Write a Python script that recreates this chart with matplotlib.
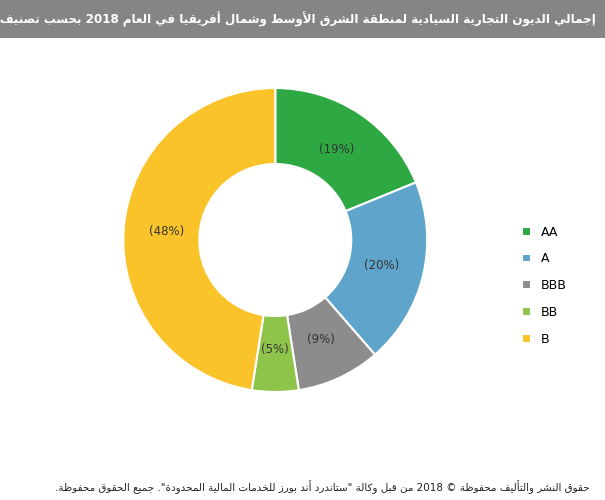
import re
import numpy as np
import matplotlib.pyplot as plt

# ---- minimal Arabic shaping + visual ordering (matplotlib has no bidi) ----
_forms = {}
def _add(chars, base, dual):
    for k, c in enumerate(chars):
        b = base + k * (4 if dual else 2)
        _forms[c] = (b, b + 1, b + 2, b + 3) if dual else (b, b + 1, None, None)

_add('آأؤإ', 0xFE81, False)
_forms['ئ'] = (0xFE89, 0xFE8A, 0xFE8B, 0xFE8C)
_forms['ا'] = (0xFE8D, 0xFE8E, None, None)
_forms['ب'] = (0xFE8F, 0xFE90, 0xFE91, 0xFE92)
_forms['ة'] = (0xFE93, 0xFE94, None, None)
_add('تثجحخ', 0xFE95, True)
_add('دذرز', 0xFEA9, False)
_add('سشصضطظعغفقكلمن', 0xFEB1, True)
_forms['ه'] = (0xFEE9, 0xFEEA, 0xFEEB, 0xFEEC)
_forms['و'] = (0xFEED, 0xFEEE, None, None)
_forms['ى'] = (0xFEEF, 0xFEF0, None, None)
_forms['ي'] = (0xFEF1, 0xFEF2, 0xFEF3, 0xFEF4)
_forms['ء'] = (0xFE80, None, None, None)
_lamalef = {'آ': 0xFEF5, 'أ': 0xFEF7, 'إ': 0xFEF9, 'ا': 0xFEFB}

def _shape(s):
    out = []
    i = 0
    n = len(s)
    def dual(c):
        return c in _forms and _forms[c][2] is not None
    while i < n:
        c = s[i]
        prev = s[i - 1] if i > 0 else ''
        joins_prev = dual(prev) and not (prev == 'ل' and c in _lamalef and False)
        if c == 'ل' and i + 1 < n and s[i + 1] in _lamalef:
            out.append(chr(_lamalef[s[i + 1]] + (1 if dual(prev) else 0)))
            i += 2
            continue
        if c not in _forms:
            out.append(c); i += 1; continue
        f = _forms[c]
        nxt = s[i + 1] if i + 1 < n else ''
        joins_next = f[2] is not None and nxt in _forms
        jp = dual(prev) and f[1] is not None
        if jp and joins_next:
            code = f[3]
        elif jp:
            code = f[1]
        elif joins_next:
            code = f[2]
        else:
            code = f[0]
        out.append(chr(code))
        i += 1
    return ''.join(out)

def ar(s):
    s = _shape(s)
    tokens = re.findall(r'[A-Za-z0-9]+|[^A-Za-z0-9]+', s)
    return ''.join(t if re.match(r'[A-Za-z0-9]', t) else t[::-1] for t in reversed(tokens))

labels = ['AA', 'A', 'BBB', 'BB', 'B']
values = [19, 20, 9, 5, 48]
colors = ['#2ea843', '#5fa5cb', '#8c8c8c', '#8fc44a', '#fbc32a']

title = 'إجمالي الديون التجارية السيادية لمنطقة الشرق الأوسط وشمال أفريقيا في العام 2018 بحسب تصنيف العملة الأجنبية'
footer = 'حقوق النشر والتأليف محفوظة © 2018 من قبل وكالة "ستاندرد أند بورز للخدمات المالية المحدودة". جميع الحقوق محفوظة.'

plt.rcParams['font.family'] = ['DejaVu Sans']
fig = plt.figure(figsize=(6.05, 5.0), dpi=100)

# ==================== Title bar ====================
bar = fig.add_axes([0, 0.924, 1, 0.076])
bar.set_facecolor('#858585')
bar.set_xticks([]); bar.set_yticks([])
for s in bar.spines.values():
    s.set_visible(False)
bar.text(0.985, 0.5, ar(title), ha='right', va='center', color='white',
         fontsize=8.6, fontweight='bold', transform=bar.transAxes)

# ==================== Donut ====================
ax = fig.add_axes([0.141, 0.14, 0.628, 0.76])
wedges, _ = ax.pie(values, colors=colors, startangle=90, counterclock=False,
                   radius=1, wedgeprops=dict(width=0.5, edgecolor='white', linewidth=1.5))
for v, w in zip(values, wedges):
    mid = np.deg2rad((w.theta1 + w.theta2) / 2)
    ax.text(0.72 * np.cos(mid), 0.72 * np.sin(mid), f'({v}%)',
            ha='center', va='center', fontsize=8.5, color='#333333')
ax.set_aspect('equal')

ax.legend(wedges, labels, loc='center left', bbox_to_anchor=(1.12, 0.38),
          frameon=False, fontsize=9, handlelength=0.7, handleheight=0.7,
          labelspacing=1.1)

# ==================== Footer ====================
fig.text(0.975, 0.026, ar(footer), ha='right', va='center', fontsize=7.5, color='#222222')

fig.savefig('out.png', dpi=100)
